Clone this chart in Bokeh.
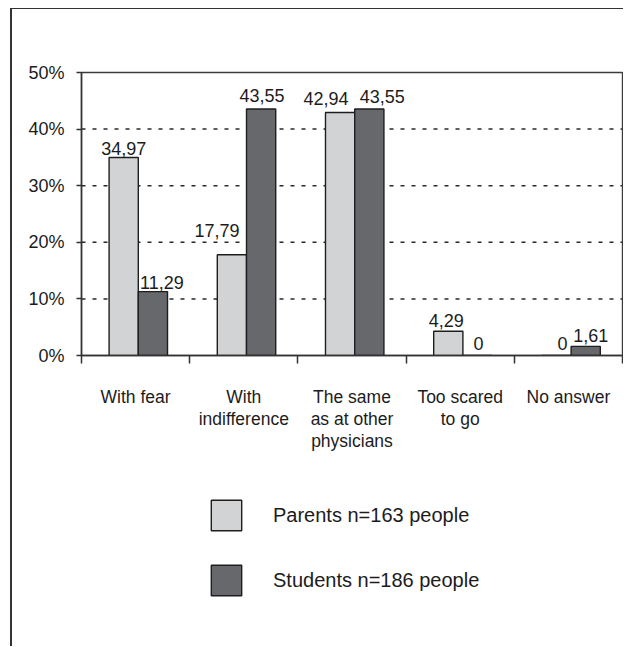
import numpy as np
from bokeh.plotting import figure
from bokeh.layouts import column
from bokeh.models import (ColumnDataSource, FixedTicker, LinearAxis, Legend,
                          LegendItem, Range1d)
from bokeh.core.properties import value
from bokeh.embed import file_html
from bokeh.resources import INLINE

# --- data -------------------------------------------------------------
categories = ["With fear", "With\nindifference", "The same\nas at other\nphysicians",
              "Too scared\nto go", "No answer"]
parents = [34.97, 17.79, 42.94, 4.29, 0.0]
students = [11.29, 43.55, 43.55, 0.0, 1.61]
y_ticks = [0, 10, 20, 30, 40, 50]
y_tick_labels = ["0%", "10%", "20%", "30%", "40%", "50%"]
series_names = ["Parents n=163 people", "Students n=186 people"]

# --- styling ----------------------------------------------------------
FONT = "Liberation Sans"
INK = "#1c1c1c"
LIGHT = "#d2d3d5"
DARK = "#67686c"
EDGE = "#1e1e1e"
BAR_W = 0.27
OFFSETS = [-0.11, 0.16]
COLORS = [LIGHT, DARK]
# nudges (px) for value labels: x to the right, y upward above bar top
parents_dx = [0, -15, -14, -2, 6]
parents_dy = [3, 18, 7, 4, 6]
students_dx = [9, 1, 13, 1, 5]
students_dy = [3, 7, 6, 6, 4]
HALF_DIGIT = 6.5  # label anchors at text middle; lift by half the digit height


def fmt(v):
    return f"{v:.2f}".replace(".", ",") if v else "0"


n = len(categories)
centers = np.arange(n) + 0.5

# ---------------- chart ----------------
p = figure(width=611, height=470, output_backend="svg", toolbar_location=None,
           x_range=Range1d(0, n), y_range=Range1d(0, 50),
           x_axis_type=None, y_axis_type=None,
           min_border_left=69, min_border_right=1,
           min_border_top=63, min_border_bottom=124)
p.background_fill_color = "white"
p.border_fill_color = "white"
p.outline_line_color = "#3a3a3a"
p.outline_line_width = 1.4
p.xgrid.visible = False
p.ygrid.visible = False

# y axis
yax = LinearAxis(ticker=FixedTicker(ticks=y_ticks, minor_ticks=[]),
                 major_label_overrides={t: s for t, s in zip(y_ticks, y_tick_labels)})
yax.axis_line_color = "#333"
yax.axis_line_width = 1.5
yax.major_tick_line_color = "#333"
yax.major_tick_line_width = 1.5
yax.major_tick_out = 5
yax.major_tick_in = 0
yax.major_label_standoff = 12
yax.major_label_text_font = FONT
yax.major_label_text_font_size = "18px"
yax.major_label_text_color = INK
p.add_layout(yax, "left")

# x axis: labels at category centres, boundary ticks as minor ticks
xax = LinearAxis(ticker=FixedTicker(ticks=list(centers), minor_ticks=list(range(n + 1))),
                 major_label_overrides={float(c): s for c, s in zip(centers, categories)})
xax.axis_line_color = "#333"
xax.axis_line_width = 1.5
xax.major_tick_line_color = None
xax.major_tick_out = 0
xax.major_tick_in = 0
xax.minor_tick_line_color = "#333"
xax.minor_tick_line_width = 1.5
xax.minor_tick_out = 8
xax.minor_tick_in = 0
xax.major_label_standoff = 23
xax.major_label_text_font = FONT
xax.major_label_text_font_size = "17.5px"
xax.major_label_text_color = INK
xax.major_label_text_line_height = 1.12
p.add_layout(xax, "below")

# dotted gridlines drawn behind bars
for t in y_ticks[1:-1]:
    p.line(x=[0, n], y=[t, t], line_color="#2a2a2a", line_width=1.5, line_dash="4 7")

for vals, off, col, dx, dy in [(parents, OFFSETS[0], LIGHT, parents_dx, parents_dy),
                               (students, OFFSETS[1], DARK, students_dx, students_dy)]:
    src = ColumnDataSource(dict(x=centers + off, top=vals,
                                label=[fmt(v) for v in vals],
                                dx=dx, dy=[-(d + HALF_DIGIT) for d in dy]))
    p.vbar(x="x", top="top", bottom=0, width=BAR_W, source=src,
           fill_color=col, line_color=EDGE, line_width=1.4)
    p.text(x="x", y="top", text="label", source=src, x_offset="dx", y_offset="dy",
           text_align="center", text_baseline="middle",
           text_font=value(FONT), text_font_size="18px", text_color=INK)

# ---------------- legend panel ----------------
lg = figure(width=611, height=167, output_backend="svg", toolbar_location=None,
            x_range=Range1d(0, 1), y_range=Range1d(0, 1),
            x_axis_type=None, y_axis_type=None, min_border=0)
lg.outline_line_color = None
lg.border_fill_color = "white"
lg.background_fill_color = "white"
lg.xgrid.visible = False
lg.ygrid.visible = False
lg.styles = {"clip-path": "inset(0px 4px 0px 0px)"}
# swatch renderers carry no drawable point; only their legend glyphs show
swatches = [lg.vbar(x=[np.nan], top=[np.nan], width=0.1, fill_color=c,
                    line_color=EDGE, line_width=1.4) for c in COLORS]
legend = Legend(items=[LegendItem(label=name, renderers=[r])
                       for name, r in zip(series_names, swatches)],
                location=(126, 47), orientation="vertical",
                glyph_width=38, glyph_height=38, label_standoff=28, spacing=27,
                padding=0, margin=0, border_line_color=None,
                background_fill_alpha=0,
                label_text_font=FONT, label_text_font_size="20px",
                label_text_color=INK)
lg.add_layout(legend, "center")

page = column(p, lg, spacing=0, margin=(8, 0, 0, 10),
              styles={"border-left": "2px solid #333", "border-top": "1.5px solid #333"})

open("out.html", "w").write(file_html(page, INLINE))
